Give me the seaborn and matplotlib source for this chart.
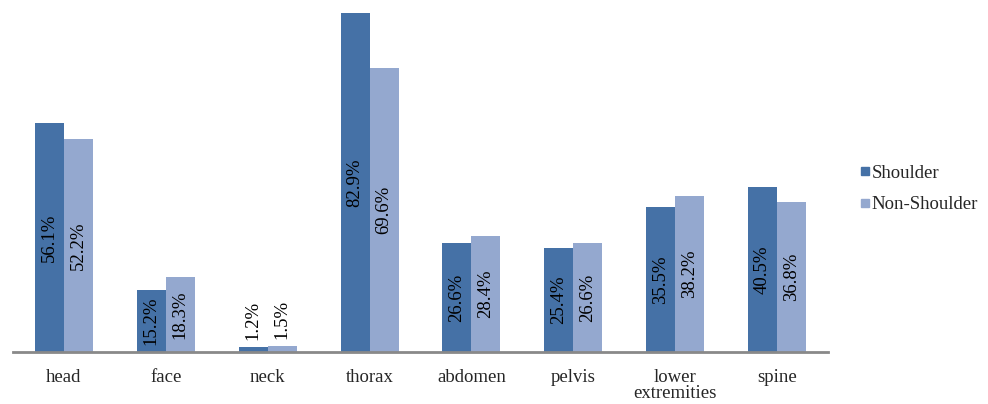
import matplotlib
matplotlib.use("Agg")
import matplotlib.pyplot as plt
from matplotlib.lines import Line2D
import seaborn as sns
import pandas as pd

categories = ["head", "face", "neck", "thorax", "abdomen", "pelvis",
              "lower\nextremities", "spine"]
shoulder = [56.1, 15.2, 1.2, 82.9, 26.6, 25.4, 35.5, 40.5]
non_shoulder = [52.2, 18.3, 1.5, 69.6, 28.4, 26.6, 38.2, 36.8]
groups = ["Shoulder", "Non-Shoulder"]
colors = ["#4571A6", "#94A8CF"]

df = pd.DataFrame({
    "region": categories * 2,
    "pct": shoulder + non_shoulder,
    "group": [groups[0]] * len(categories) + [groups[1]] * len(categories),
})

sns.set_theme(style="white")
plt.rcParams["font.family"] = ["Liberation Serif", "DejaVu Serif"]
plt.rcParams["font.size"] = 13.5

fig = plt.figure(figsize=(9.88, 4.04), dpi=100)
ax = fig.add_axes([13 / 988, 52 / 404, 815 / 988, 352 / 404])

sns.barplot(data=df, x="region", y="pct", hue="group", order=categories,
            hue_order=groups, palette=colors, width=0.57, saturation=1,
            edgecolor="none", linewidth=0, legend=False, ax=ax)

ax.set_ylim(0, 86.2)
ax.set_xlim(-0.5, len(categories) - 0.5)

# value labels: rotated, centred in the bar, or just above very short bars
for container, vals in zip(ax.containers, [shoulder, non_shoulder]):
    for patch, v in zip(container.patches, vals):
        xc = patch.get_x() + patch.get_width() / 2
        if v < 5:
            ax.text(xc, v + 1.8, f"{v:.1f}%", rotation=90, ha="center",
                    va="bottom", fontsize=13.5, color="black")
        else:
            ax.text(xc, v / 2, f"{v:.1f}%", rotation=90, ha="center",
                    va="center", fontsize=13.5, color="black")

for s in ["top", "right", "left"]:
    ax.spines[s].set_visible(False)
ax.spines["bottom"].set_color("#898989")
ax.spines["bottom"].set_linewidth(2)
ax.set_yticks([])
ax.set_xlabel("")
ax.set_ylabel("")
ax.tick_params(axis="x", length=0, pad=12, labelsize=13.5)
for lbl in ax.get_xticklabels():
    lbl.set_linespacing(0.95)
    lbl.set_verticalalignment("top")

handles = [Line2D([0], [0], marker="s", linestyle="none", markersize=6,
                  markerfacecolor=c, markeredgecolor=c) for c in colors]
fig.legend(handles, groups, loc="center left",
           bbox_to_anchor=(851 / 988, 1 - 189 / 404), frameon=False,
           fontsize=13.5, handletextpad=0.0, labelspacing=0.75,
           handlelength=0.7, borderaxespad=0)

fig.savefig("out.png", dpi=100)
